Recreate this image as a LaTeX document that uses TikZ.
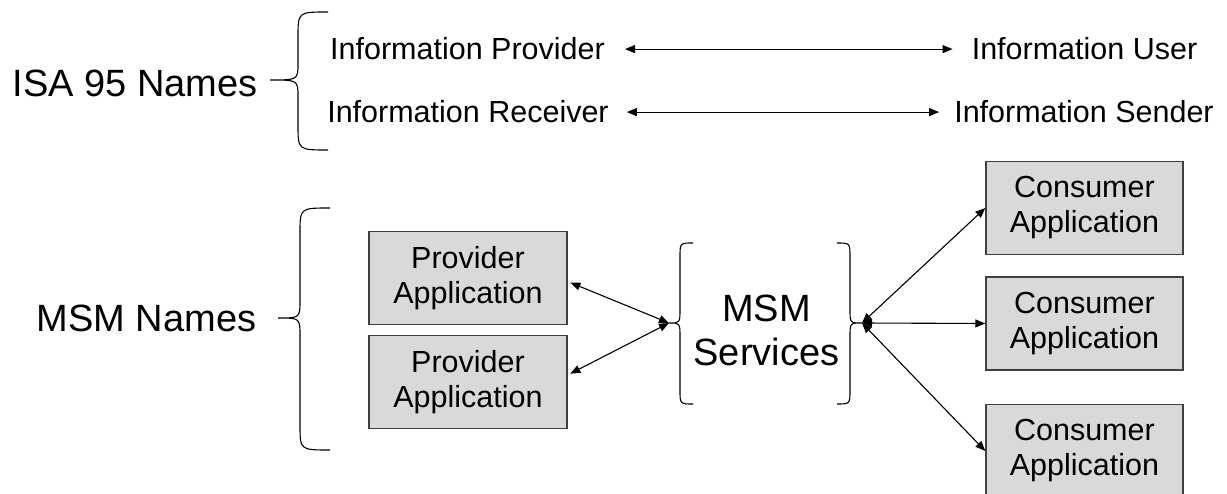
\documentclass[tikz,border=0pt]{standalone}
\usepackage{fontspec}
\setmainfont{Liberation Sans}
\usetikzlibrary{arrows.meta}
\definecolor{boxfill}{RGB}{217,217,217}
\definecolor{boxline}{RGB}{64,64,64}

\begin{document}
\begin{tikzpicture}[x=1pt,y=-1pt,
  rolelabel/.style={inner sep=0pt, anchor=base, font=\fontsize{30.5}{33}\selectfont},
  biglabel/.style={inner sep=0pt, anchor=base, align=center, font=\fontsize{38}{44}\selectfont},
  appbox/.style={draw=boxline, fill=boxfill, line width=1.2pt,
    minimum width=198pt, minimum height=93pt, inner sep=0pt,
    align=center, font=\fontsize{30.5}{35}\selectfont},
  link/.style={line width=1.1pt,
    {Triangle[length=10pt,width=8pt]}-{Triangle[length=10pt,width=8pt]}},
  bracestroke/.style={line width=1.1pt},
]
\useasboundingbox (0,0) rectangle (1227,494);

% group names and their braces
\node[biglabel] (isa) at (135,97) {ISA 95 Names};
\node[biglabel] (msm) at (146.5,332) {MSM Names};

\draw[bracestroke] (328,12) .. controls (298,12) .. (298,37) -- (298,63)
  .. controls (298,80) .. (270,80) .. controls (298,80) .. (298,97)
  -- (298,125) .. controls (298,150) .. (328,150);
\draw[bracestroke] (330,208) .. controls (300,208) .. (300,233) -- (300,300)
  .. controls (300,318) .. (278,318) .. controls (300,318) .. (300,336)
  -- (300,425) .. controls (300,450) .. (330,450);

% ISA 95 role pairs
\node[rolelabel] (ip) at (467.5,60) {Information Provider};
\node[rolelabel] (iu) at (1084.5,60) {Information User};
\node[rolelabel] (ir) at (468,123) {Information Receiver};
\node[rolelabel] (is) at (1084,123) {Information Sender};

\draw[link, shorten <=20pt, shorten >=19pt] (ip.east) -- (iu.west);
\draw[link, shorten <=18pt, shorten >=15pt] (ir.east) -- (is.west);

% applications
\node[appbox] (p1) at (468,278) {Provider\\Application};
\node[appbox] (p2) at (468,382) {Provider\\Application};
\node[appbox, minimum width=197pt] (c1) at (1084.4,208) {Consumer\\Application};
\node[appbox, minimum width=197pt] (c2) at (1084.4,323.5) {Consumer\\Application};
\node[appbox, minimum width=197pt] (c3) at (1084.4,451) {Consumer\\Application};

% MSM services with its pair of braces
\node[biglabel, anchor=center] (svc) at (766.5,330) {MSM\\Services};
\draw[bracestroke] (693,243) .. controls (680,243) .. (680,257) -- (680,309)
  .. controls (680,323) .. (669,323) .. controls (680,323) .. (680,337)
  -- (680,390) .. controls (680,404) .. (693,404);
\draw[bracestroke] (837,243) .. controls (850,243) .. (850,257) -- (850,309)
  .. controls (850,323) .. (862,323) .. controls (850,323) .. (850,337)
  -- (850,390) .. controls (850,404) .. (837,404);

\coordinate (j1) at (669,323);
\coordinate (j2) at (862,323);

\draw[link, shorten <=3pt] (p1.-2.3) -- (j1);
\draw[link, shorten <=3pt] (p2.4) -- (j1);
\draw[link] (j2) -- (c1.west);
\draw[link] (j2) -- (c2.west);
\draw[link] (j2) -- (c3.west);
\end{tikzpicture}
\end{document}
